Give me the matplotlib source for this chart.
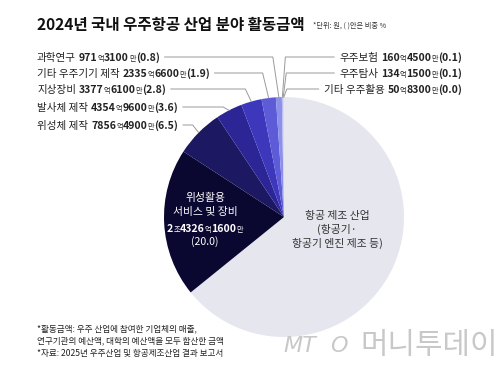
import re
import matplotlib
matplotlib.use('Agg')
import matplotlib.pyplot as plt
import numpy as np

plt.rcParams['font.family'] = ['Noto Sans CJK KR', 'DejaVu Sans']

# 2024 activity amounts (unit: 억원), clockwise from 12 o'clock
names = ['항공 제조 산업', '위성활용 서비스 및 장비', '위성체 제작', '발사체 제작', '지상장비',
         '기타 우주기기 제작', '과학연구', '우주보험', '우주탐사', '기타 우주활용']
amounts = [78063.0, 24326.16, 7856.49, 4354.96, 3377.61, 2335.66, 971.31, 160.45, 134.15, 50.83]
amount_text = ['', '2조4326억1600만', '7856억4900만', '4354억9600만', '3377억6100만',
               '2335억6600만', '971억3100만', '160억4500만', '134억1500만', '50억8300만']
shares = [64.2, 20.0, 6.5, 3.6, 2.8, 1.9, 0.8, 0.1, 0.1, 0.0]
colors = ['#e6e6ef', '#0a0730', '#1d1862', '#2b2596', '#3d37bb', '#5d5bd8',
          '#8c90e8', '#b3b7f2', '#d2d5f8', '#c3c7f4']

left_idx = [6, 5, 4, 3, 2]
left_y = [57, 73, 89, 107, 125]
right_idx = [7, 8, 9]
right_y = [57, 73, 89]

W, H = 500, 379
fig = plt.figure(figsize=(W / 100, H / 100), dpi=100)
fig.patch.set_facecolor('white')

cx, cy, R = 284, 217, 120
ax = fig.add_axes([(cx - R) / W, (H - cy - R) / H, 2 * R / W, 2 * R / H])
wedges, _ = ax.pie(amounts, colors=colors, startangle=90, counterclock=False,
                   radius=1, wedgeprops=dict(linewidth=0))
ax.set_xlim(-1, 1)
ax.set_ylim(-1, 1)

ov = fig.add_axes([0, 0, 1, 1], zorder=5)
ov.set_xlim(0, W)
ov.set_ylim(H, 0)
ov.axis('off')
ov.patch.set_alpha(0)

renderer = fig.canvas.get_renderer()


def edge_point(i):
    w = wedges[i]
    th = np.deg2rad((w.theta1 + w.theta2) / 2)
    dx, dy = ax.transData.transform((np.cos(th), np.sin(th)))
    return dx, H - dy


def runs(label, amt, share, big=7.6, small=5.2):
    parts = []
    if label:
        parts.append((label, big, 'normal', 3))
    for tok in re.findall(r'\d+|[조억만]', amt):
        if tok.isdigit():
            parts.append((tok, big, 'bold', 0))
        else:
            parts.append((tok, small, 'normal', 0))
    if share is not None:
        parts.append(('(%.1f)' % share, big, 'bold', 0))
    return parts


def draw_runs(x, base, parts, ha='left', color='#222222'):
    widths = []
    for s, size, wt, gap in parts:
        t = ov.text(0, 0, s, fontsize=size, fontweight=wt)
        widths.append(t.get_window_extent(renderer).width + gap)
        t.remove()
    total = sum(widths)
    x0 = x - total if ha == 'right' else (x - total / 2 if ha == 'center' else x)
    start = x0
    for (s, size, wt, gap), wd in zip(parts, widths):
        ov.text(x0, base, s, fontsize=size, fontweight=wt, color=color, va='baseline')
        x0 += wd
    return start, start + total


line_kw = dict(color='#9a9a9a', lw=0.7)

for i, y in zip(left_idx, left_y):
    x0, x1 = draw_runs(37, y + 4, runs(names[i], amount_text[i], shares[i]))
    ex, ey = edge_point(i)
    ov.plot([x1 + 5, ex - 6, ex], [y, y, ey], **line_kw)

for i, y in zip(right_idx, right_y):
    x0, x1 = draw_runs(462, y + 4, runs(names[i], amount_text[i], shares[i]), ha='right')
    ex, ey = edge_point(i)
    ov.plot([x0 - 5, ex + 3, ex], [y, y, ey], **line_kw)

# inside labels
ov.text(205, 198, '위성활용', color='white', fontsize=7.8, ha='center', va='center')
ov.text(205, 212, '서비스 및 장비', color='white', fontsize=7.8, ha='center', va='center')
draw_runs(205, 232, runs('', amount_text[1], None, big=7.6, small=5.2), ha='center', color='white')
ov.text(205, 242, '(%.1f)' % shares[1], color='white', fontsize=7.6, ha='center', va='center')

ov.text(337, 230, '항공 제조 산업\n(항공기·\n항공기 엔진 제조 등)', color='#333333',
        fontsize=7.8, ha='center', va='center', linespacing=1.3)

# title
ov.text(37, 25, '2024년 국내 우주항공 산업 분야 활동금액', fontsize=11.2, fontweight='bold',
        color='#111111', va='center')
ov.text(313, 26, '*단위: 원, ( )안은 비중 %', fontsize=5.2, color='#333333', va='center')

# footnotes
ov.text(37, 341, '*활동금액: 우주 산업에 참여한 기업체의 매출,\n연구기관의 예산액, 대학의 예산액을 모두 합산한 금액\n'
        '*자료: 2025년 우주산업 및 항공제조산업 결과 보고서',
        fontsize=6.2, color='#222222', va='center', linespacing=1.5)

# logo
ov.text(283, 346, 'MT', fontsize=16, style='italic', family='DejaVu Sans',
        fontweight='light', color='#c8c8c8', va='center')
ov.text(330, 346, 'O', fontsize=16, style='italic', family='DejaVu Sans',
        color='#c8c8c8', va='center')
ov.text(360, 345, '머니투데이', fontsize=21.5, color='#c8c8c8', va='center')

fig.savefig('out.png', dpi=100, facecolor='white')
